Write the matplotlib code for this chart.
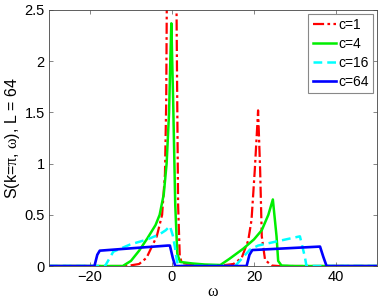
import matplotlib
matplotlib.use("Agg")
import matplotlib.pyplot as plt

plt.rcParams['font.family'] = ['Liberation Sans', 'DejaVu Sans']
plt.rcParams['mathtext.fontset'] = 'custom'
plt.rcParams['mathtext.rm'] = 'Liberation Serif'
plt.rcParams['mathtext.it'] = 'Liberation Serif'

# c = 1 (red, dash-dot)
w1 = [-30, -11, -8, -6.2, -3.7, -2.4, -1.7, -1.4, -1.25, 0, 1.1, 1.25, 1.5, 1.9, 2.4, 5, 12,
      15, 17, 18.6, 19.4, 20.2, 20.7, 21, 21.5, 21.9, 22.7, 24.3, 26, 50]
s1 = [0, 0, 0.02, 0.08, 0.29, 0.5, 0.9, 1.6, 2.6, 20.0, 2.6, 1.8, 0.6, 0.1, 0.03, 0.01, 0.005,
      0.02, 0.08, 0.25, 0.45, 0.94, 1.3, 1.52, 0.94, 0.29, 0.06, 0.005, 0, 0]

# c = 4 (green, solid)
w4 = [-30, -12, -10, -8, -6, -4, -3, -2, -1.3, -0.7, -0.4, -0.15, 0.3, 0.8, 1.3, 2, 5, 8, 11.8,
      14, 17.4, 20, 21.9, 23.5, 24.6, 25.5, 25.9, 26.7, 30, 50]
s4 = [0, 0, 0.05, 0.15, 0.27, 0.4, 0.5, 0.7, 1.0, 1.5, 2.0, 2.37, 1.6, 0.6, 0.12, 0.04, 0.025, 0.015, 0.01,
      0.07, 0.17, 0.26, 0.35, 0.5, 0.65, 0.29, 0.05, 0.005, 0, 0]

# c = 16 (cyan, dashed)
w16 = [-30, -16.3, -14.3, -10.2, -6, -3, -1.5, -0.5, 0.2, 0.7, 1.2, 1.6, 15.4, 19, 21, 25.5, 31.2, 32.4, 32.8, 50]
s16 = [0, 0, 0.14, 0.21, 0.26, 0.31, 0.35, 0.39, 0.3, 0.19, 0.05, 0, 0, 0.16, 0.2, 0.24, 0.29, 0.09, 0, 0]

# c = 64 (blue, solid)
w64 = [-30, -18.9, -18.2, -17.6, -1, -0.5, 0.2, 0.8, 18.2, 18.9, 19.6, 36.1, 36.9, 37.7, 50]
s64 = [0, 0, 0.11, 0.15, 0.2, 0.2, 0.08, 0, 0, 0.11, 0.156, 0.19, 0.09, 0, 0]

labels = ['c=1', 'c=4', 'c=16', 'c=64']

fig = plt.figure(figsize=(3.82, 3.03), dpi=100)
ax = fig.add_axes([0.128, 0.122, 0.859, 0.845])

ax.plot(w1, s1, color='red', ls=(0, (5, 1.5, 1.2, 1.5)), lw=1.6, label=labels[0])
ax.plot(w4, s4, color='#00ee00', ls='-', lw=1.8, label=labels[1])
ax.plot(w16, s16, color='cyan', ls=(0, (3.5, 2)), lw=1.8, label=labels[2])
ax.plot(w64, s64, color='blue', ls='-', lw=1.9, label=labels[3])

ax.set_xlim(-30, 50)
ax.set_ylim(0, 2.5)
ax.set_xticks([-20, 0, 20, 40])
ax.set_yticks([0, 0.5, 1, 1.5, 2, 2.5])
ax.set_yticklabels(['0', '0.5', '1', '1.5', '2', '2.5'])
ax.tick_params(direction='in', top=True, right=True, length=3, width=0.5,
               labelsize=10.5, color='#555555', pad=3)
for sp in ax.spines.values():
    sp.set_linewidth(0.6)
    sp.set_color('#444444')

ax.set_xlabel('$\\omega$', fontsize=11.5, labelpad=0)
ax.set_ylabel('S(k=$\\pi$, $\\omega$), L = 64', fontsize=11.5, labelpad=2)

leg = ax.legend(loc='upper right', fontsize=10, fancybox=False, framealpha=1,
                edgecolor='#888888', handlelength=1.7, handletextpad=0.15,
                borderpad=0.3, labelspacing=0.35, borderaxespad=0.3)
leg.get_frame().set_linewidth(0.8)

fig.savefig('out.png', dpi=100)
